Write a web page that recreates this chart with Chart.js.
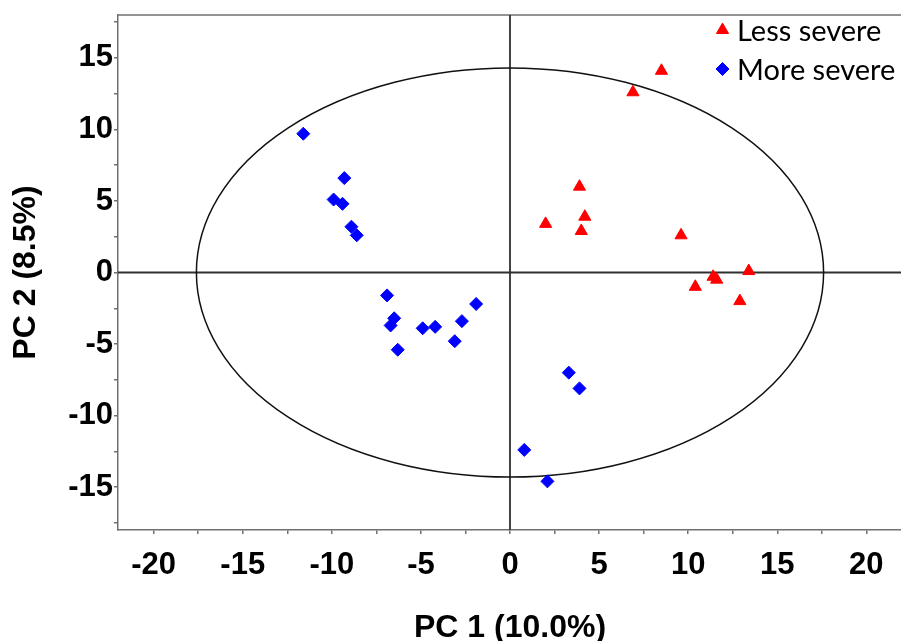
<!DOCTYPE html>
<html>
<head>
<meta charset="utf-8">
<script src="https://cdn.jsdelivr.net/npm/chart.js@4.4.1/dist/chart.umd.min.js"></script>
<style>
  html, body { margin: 0; padding: 0; background: #ffffff; overflow: hidden; }
  #wrap { position: relative; width: 910px; height: 650px; }
</style>
</head>
<body>
<div id="wrap"><canvas id="pca"></canvas></div>
<script>
// PCA scores (PC 1, PC 2) per sample
const lessSevereX = [8.5, 6.9, 3.9, 2.0, 4.2, 4.0, 9.6, 13.4, 11.4, 11.6, 10.4, 12.9];
const lessSevereY = [14.1, 12.6, 6.0, 3.4, 3.9, 2.9, 2.6, 0.1, -0.3, -0.5, -1.0, -2.0];

const moreSevereX = [-11.6, -9.3, -9.9, -9.4, -8.9, -8.6, -6.9, -6.5, -6.7, -6.3, -4.9, -4.2, -3.1, -2.7, -1.9, 3.3, 3.9, 0.8, 2.1];
const moreSevereY = [9.7, 6.6, 5.1, 4.8, 3.2, 2.6, -1.6, -3.2, -3.7, -5.4, -3.9, -3.8, -4.8, -3.4, -2.2, -7.0, -8.1, -12.4, -14.6];

const seriesLabels = ['Less severe', 'More severe'];

// Axis ticks (marks every 2.5, labels every 5)
const xTicks = [-20, -17.5, -15, -12.5, -10, -7.5, -5, -2.5, 0, 2.5, 5, 7.5, 10, 12.5, 15, 17.5, 20];
const yTicks = [-17.5, -15, -12.5, -10, -7.5, -5, -2.5, 0, 2.5, 5, 7.5, 10, 12.5, 15, 17.5];

// Hotelling T2 (95%) ellipse semi-axes
const ellipseA = 17.6;
const ellipseB = 14.3;

const toPoints = (xs, ys) => xs.map((x, i) => ({ x: x, y: ys[i] }));

const axisColor = '#707070';
const tickFont = { family: '"Liberation Sans", Arial, sans-serif', size: 31, weight: 'bold' };
const titleFont = { family: '"Liberation Sans", Arial, sans-serif', size: 32, weight: 'bold' };

const overlay = {
  id: 'overlay',
  beforeDatasetsDraw(chart) {
    const { ctx, chartArea: a, scales: { x, y } } = chart;
    const cx = x.getPixelForValue(0);
    const cy = y.getPixelForValue(0);
    ctx.save();
    // top frame line
    ctx.strokeStyle = axisColor;
    ctx.lineWidth = 1.5;
    ctx.beginPath();
    ctx.moveTo(a.left, a.top);
    ctx.lineTo(a.right, a.top);
    ctx.stroke();
    // zero lines
    ctx.strokeStyle = '#303030';
    ctx.lineWidth = 1.8;
    ctx.beginPath();
    ctx.moveTo(cx, a.top);
    ctx.lineTo(cx, a.bottom);
    ctx.moveTo(a.left, cy);
    ctx.lineTo(a.right, cy);
    ctx.stroke();
    // confidence ellipse
    const rx = Math.abs(x.getPixelForValue(ellipseA) - cx);
    const ry = Math.abs(y.getPixelForValue(ellipseB) - cy);
    ctx.strokeStyle = '#111111';
    ctx.lineWidth = 1.5;
    ctx.beginPath();
    ctx.ellipse(cx, cy, rx, ry, 0, 0, Math.PI * 2);
    ctx.stroke();
    ctx.restore();
  },
  afterDraw(chart) {
    // legend in the upper right corner of the plot
    const { ctx } = chart;
    const rowBaselines = [40.5, 79.5];
    ctx.save();
    chart.data.datasets.forEach((ds, i) => {
      const ty = rowBaselines[i];
      ctx.fillStyle = ds.backgroundColor;
      ctx.strokeStyle = ds.borderColor;
      ctx.lineWidth = 1;
      Chart.helpers.drawPoint(ctx, { pointStyle: ds.pointStyle, radius: ds.pointRadius, borderWidth: 1 }, 722.5, ty - 10.5);
      ctx.fillStyle = '#000000';
      ctx.font = '29px Lato, "Open Sans", sans-serif';
      ctx.textAlign = 'left';
      ctx.textBaseline = 'alphabetic';
      ctx.fillText(ds.label, 737, ty);
    });
    ctx.restore();
  }
};

new Chart(document.getElementById('pca'), {
  type: 'scatter',
  data: {
    datasets: [
      {
        label: seriesLabels[0],
        data: toPoints(lessSevereX, lessSevereY),
        pointStyle: 'triangle',
        pointRadius: 7,
        pointHoverRadius: 7,
        backgroundColor: '#ff0000',
        borderColor: '#ff0000',
        borderWidth: 1
      },
      {
        label: seriesLabels[1],
        data: toPoints(moreSevereX, moreSevereY),
        pointStyle: 'rectRot',
        pointRadius: 6.5,
        pointHoverRadius: 6.5,
        backgroundColor: '#0000ff',
        borderColor: '#0000ff',
        borderWidth: 1
      }
    ]
  },
  options: {
    responsive: true,
    maintainAspectRatio: false,
    devicePixelRatio: 1,
    animation: false,
    layout: { padding: { left: 0, right: 8, top: 15, bottom: 0 } },
    plugins: {
      legend: { display: false },
      tooltip: { enabled: false }
    },
    scales: {
      x: {
        type: 'linear',
        min: -22,
        max: 22,
        afterBuildTicks: (s) => { s.ticks = xTicks.map(v => ({ value: v })); },
        afterFit: (s) => { s.height = 120; s.paddingLeft = 0; s.paddingRight = 0; },
        grid: { drawOnChartArea: false, drawTicks: true, tickLength: 4, color: axisColor, lineWidth: 1.5 },
        border: { display: true, color: axisColor, width: 1.5 },
        ticks: {
          autoSkip: false,
          maxRotation: 0,
          padding: 13,
          color: '#000000',
          font: tickFont,
          callback: (v) => (v % 5 === 0 ? String(v) : '')
        },
        title: {
          display: true,
          text: 'PC 1 (10.0%)',
          color: '#000000',
          font: titleFont,
          padding: { top: 0, bottom: 3 }
        }
      },
      y: {
        type: 'linear',
        min: -18,
        max: 18,
        afterBuildTicks: (s) => { s.ticks = yTicks.map(v => ({ value: v })); },
        afterFit: (s) => { s.width = 118; s.paddingTop = 0; s.paddingBottom = 0; },
        grid: { drawOnChartArea: false, drawTicks: true, tickLength: 4, color: axisColor, lineWidth: 1.5 },
        border: { display: true, color: axisColor, width: 1.5 },
        ticks: {
          autoSkip: false,
          padding: 1,
          color: '#000000',
          font: tickFont,
          callback: (v) => (v % 5 === 0 ? String(v) : '')
        },
        title: {
          display: true,
          text: 'PC 2 (8.5%)',
          color: '#000000',
          font: titleFont,
          padding: { top: 7, bottom: 0 }
        }
      }
    }
  },
  plugins: [overlay]
});
</script>
</body>
</html>
